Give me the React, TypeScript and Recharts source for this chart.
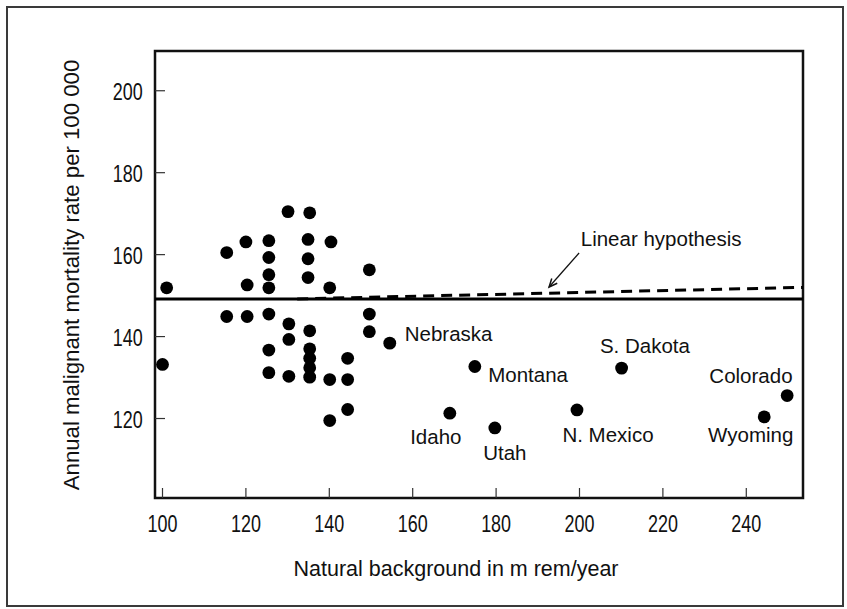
import React from 'react';
import { ScatterChart, Scatter, XAxis, YAxis, ReferenceLine, ReferenceArea } from 'recharts';

// Unlabelled states: natural background (mrem/year) and mortality rate per 100 000
const otherBackground = [
  101.0, 100.0, 115.4, 115.4, 120.0, 120.3, 120.3,
  125.5, 125.5, 125.5, 125.5, 125.5, 125.5, 125.5,
  130.1, 130.3, 130.3, 130.3,
  135.3, 134.9, 134.9, 134.9, 135.3, 135.3, 135.3, 135.3, 135.3,
  140.4, 140.1, 140.1, 140.1,
  144.4, 144.4, 144.4,
  149.6, 149.6, 149.6,
];
const otherMortality = [
  151.9, 133.2, 160.5, 144.9, 163.1, 152.6, 144.9,
  163.4, 159.3, 155.1, 151.9, 145.5, 136.7, 131.2,
  170.5, 143.1, 139.3, 130.3,
  170.2, 163.7, 159.0, 154.4, 141.4, 137.0, 134.7, 132.4, 130.1,
  163.1, 151.9, 129.5, 119.5,
  134.7, 129.5, 122.2,
  156.3, 145.5, 141.2,
];

// Labelled states
const namedStates = ['Nebraska', 'Montana', 'Idaho', 'Utah', 'N. Mexico', 'S. Dakota', 'Colorado', 'Wyoming'];
const namedBackground = [154.5, 174.9, 168.9, 179.7, 199.4, 210.1, 249.8, 244.3];
const namedMortality = [138.4, 132.7, 121.3, 117.7, 122.1, 132.3, 125.6, 120.4];

// Reference lines
const observedLevel = 149.2;
const hypothesisX = [132.3, 253.6];
const hypothesisY = [149.2, 152.0];
const arrowX = [199.9, 192.7];
const arrowY = [160.4, 152.1];
const hypothesisLabel = 'Linear hypothesis';

// Axes
const xTicks = [100, 120, 140, 160, 180, 200, 220, 240];
const yTicks = [120, 140, 160, 180, 200];
const xDomain: [number, number] = [98.2, 253.6];
const yDomain: [number, number] = [100.6, 209.7];
const xTitle = 'Natural background in m rem/year';
const yTitle = 'Annual malignant mortality rate per 100 000';

const otherData = otherBackground.map((x, i) => ({ x, y: otherMortality[i] }));
const namedData = namedStates.map((name, i) => ({ name, x: namedBackground[i], y: namedMortality[i] }));
const hypothesisSegment = hypothesisX.map((x, i) => ({ x, y: hypothesisY[i] }));
const arrowSegment = arrowX.map((x, i) => ({ x, y: arrowY[i] }));

// Styling
const textFont = "'Liberation Sans', Arial, sans-serif";
const ink = '#111';
const dotR = 6.4;
const tickFontSize = 23;
const condense = 0.78;

const labelPlacement: Record<string, { dx: number; dy: number; anchor: 'start' | 'middle' | 'end' }> = {
  Nebraska: { dx: 15, dy: -2.6, anchor: 'start' },
  Montana: { dx: 13.4, dy: 15.7, anchor: 'start' },
  Idaho: { dx: -14, dy: 30.7, anchor: 'middle' },
  Utah: { dx: 10, dy: 31.7, anchor: 'middle' },
  'N. Mexico': { dx: 31, dy: 31.7, anchor: 'middle' },
  'S. Dakota': { dx: 23.3, dy: -15.6, anchor: 'middle' },
  Colorado: { dx: 5.4, dy: -12.4, anchor: 'end' },
  Wyoming: { dx: -13.5, dy: 25.4, anchor: 'middle' },
};

const PlainDot = (props: any) => <circle cx={props.cx} cy={props.cy} r={dotR} fill="#000" />;

const NamedDot = (props: any) => {
  const name = props.payload?.name ?? props.name;
  const p = labelPlacement[name] || { dx: 12, dy: 0, anchor: 'start' };
  return (
    <g>
      <circle cx={props.cx} cy={props.cy} r={dotR} fill="#000" />
      <text
        x={props.cx + p.dx}
        y={props.cy + p.dy}
        textAnchor={p.anchor}
        fontFamily={textFont}
        fontSize={20.5}
        fill={ink}
      >
        {name}
      </text>
    </g>
  );
};

const ArrowShape = (props: any) => {
  const { x1, y1, x2, y2 } = props;
  const len = Math.hypot(x2 - x1, y2 - y1) || 1;
  const ux = (x2 - x1) / len;
  const uy = (y2 - y1) / len;
  const L = 9;
  const th = (24 * Math.PI) / 180;
  const rot = (a: number) => ({
    x: x2 - L * (ux * Math.cos(a) - uy * Math.sin(a)),
    y: y2 - L * (ux * Math.sin(a) + uy * Math.cos(a)),
  });
  const a = rot(th);
  const b = rot(-th);
  return (
    <g>
      <line x1={x1} y1={y1} x2={x2} y2={y2} stroke={ink} strokeWidth={1.3} />
      <polyline
        points={`${a.x},${a.y} ${x2},${y2} ${b.x},${b.y}`}
        fill="none"
        stroke={ink}
        strokeWidth={1.5}
      />
      <text x={x1 + 1.7} y={y1 - 6.6} fontFamily={textFont} fontSize={20.5} fill={ink}>
        {hypothesisLabel}
      </text>
    </g>
  );
};

const XTick = (props: any) => {
  const { x, y, payload } = props;
  const baseline = y + 0.71 * tickFontSize;
  return (
    <text
      transform={`translate(${x}, ${baseline}) scale(${condense}, 1)`}
      textAnchor="middle"
      fontFamily={textFont}
      fontSize={tickFontSize}
      fill={ink}
    >
      {payload.value}
    </text>
  );
};

const YTick = (props: any) => {
  const { x, y, payload } = props;
  const baseline = y + 0.355 * tickFontSize + 1.5;
  return (
    <text
      transform={`translate(${x}, ${baseline}) scale(${condense}, 1)`}
      textAnchor="end"
      fontFamily={textFont}
      fontSize={tickFontSize}
      fill={ink}
    >
      {payload.value}
    </text>
  );
};

const XTitle = (props: any) => {
  const vb = props.viewBox || { x: 155, y: 498, width: 648, height: 111 };
  return (
    <text
      x={vb.x + vb.width / 2 - 23}
      y={vb.y + 78}
      textAnchor="middle"
      fontFamily={textFont}
      fontSize={21.5}
      fill={ink}
    >
      {xTitle}
    </text>
  );
};

const YTitle = (props: any) => {
  const vb = props.viewBox || { x: 0, y: 51, width: 155, height: 447 };
  const cx = vb.x + 79;
  const cy = vb.y + vb.height / 2 + 0.5;
  return (
    <text
      x={cx}
      y={cy}
      transform={`rotate(-90, ${cx}, ${cy})`}
      textAnchor="middle"
      fontFamily={textFont}
      fontSize={22.2}
      fill={ink}
    >
      {yTitle}
    </text>
  );
};

export default function App() {
  return (
    <div style={{ position: 'absolute', left: 0, top: 0, width: 847, height: 609, background: '#fff' }}>
      <div
        style={{
          position: 'absolute',
          left: 6,
          top: 6,
          width: 838,
          height: 601,
          boxSizing: 'border-box',
          border: '2px solid #3a3a3a',
        }}
      />
      <div style={{ position: 'absolute', left: 0, top: 0 }}>
        <ScatterChart width={847} height={609} margin={{ top: 51, right: 44, bottom: 0, left: 0 }}>
          <XAxis
            type="number"
            dataKey="x"
            domain={xDomain}
            ticks={xTicks}
            allowDataOverflow
            height={111}
            axisLine={false}
            tickSize={-10}
            tickMargin={27.4}
            tickLine={{ stroke: '#333', strokeWidth: 1.2 }}
            tick={XTick}
            label={{ content: XTitle }}
          />
          <YAxis
            type="number"
            dataKey="y"
            domain={yDomain}
            ticks={yTicks}
            allowDataOverflow
            width={155}
            axisLine={false}
            tickSize={-10}
            tickMargin={22.3}
            tickLine={{ stroke: '#333', strokeWidth: 1.2 }}
            tick={YTick}
            label={{ content: YTitle }}
          />
          <ReferenceLine y={observedLevel} stroke="#000" strokeWidth={3} />
          <ReferenceLine segment={hypothesisSegment} stroke="#000" strokeWidth={3} strokeDasharray="11 7" />
          <ReferenceLine segment={arrowSegment} shape={ArrowShape} />
          <Scatter data={otherData} shape={PlainDot} isAnimationActive={false} />
          <Scatter data={namedData} shape={NamedDot} isAnimationActive={false} />
          <ReferenceArea
            x1={xDomain[0]}
            x2={xDomain[1]}
            y1={yDomain[0]}
            y2={yDomain[1]}
            fill="none"
            fillOpacity={0}
            stroke={ink}
            strokeWidth={2.5}
          />
        </ScatterChart>
      </div>
    </div>
  );
}
